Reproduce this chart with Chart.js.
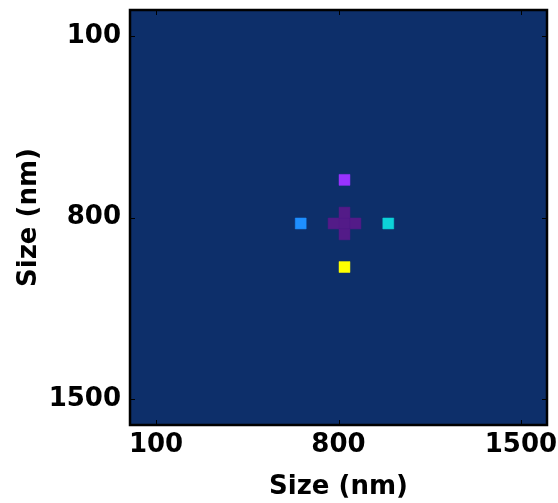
<!DOCTYPE html>
<html>
<head>
<meta charset="utf-8">
<script src="https://cdn.jsdelivr.net/npm/chart.js@4/dist/chart.umd.min.js"></script>
<style>
  html, body { margin: 0; padding: 0; background: #ffffff; }
  #wrap { width: 558px; height: 503px; position: relative; }
</style>
</head>
<body>
<div id="wrap"><canvas id="c" width="558" height="503"></canvas></div>
<script>
// Data (nm) — heatmap cells that differ from the background level
const axisMin = 0;
const axisMax = 1600;
const tickValues = [100, 800, 1500];
const cellSize = 42;
const cellX = [823, 781, 865, 823, 823, 823, 823, 655, 991];
const cellY = [823, 823, 823, 781, 865, 655, 991, 823, 823];
const cellColor = ['#531b88', '#531b88', '#531b88', '#531b88', '#531b88', '#9933fe', '#ffff00', '#1e8fff', '#0dd3d9'];
const backgroundLevelColor = '#0d2f6a';
const axisTitle = 'Size (nm)';

const FONT = { family: '"DejaVu Sans", sans-serif', size: 26, weight: 'bold' };

const points = cellX.map((x, i) => ({ x: x, y: cellY[i] }));

function cellRadius(ctx) {
  const s = ctx.chart.scales.x;
  const side = Math.abs(s.getPixelForValue(cellSize) - s.getPixelForValue(0));
  return side / Math.SQRT2;
}

function zeroPad(s) { s.paddingTop = 0; s.paddingBottom = 0; s.paddingLeft = 0; s.paddingRight = 0; }

const framePlugin = {
  id: 'frame',
  beforeDatasetsDraw(chart) {
    const { ctx, chartArea: a } = chart;
    ctx.save();
    ctx.fillStyle = backgroundLevelColor;
    ctx.fillRect(a.left, a.top, a.right - a.left, a.bottom - a.top);
    ctx.restore();
  },
  afterDatasetsDraw(chart) {
    const { ctx, chartArea: a, scales } = chart;
    ctx.save();
    ctx.strokeStyle = '#000000';
    ctx.lineWidth = 1;
    const len = 5;
    tickValues.forEach(v => {
      const px = Math.round(scales.x.getPixelForValue(v)) + 0.5;
      ctx.beginPath();
      ctx.moveTo(px, a.bottom); ctx.lineTo(px, a.bottom - len);
      ctx.moveTo(px, a.top); ctx.lineTo(px, a.top + len);
      ctx.stroke();
      const py = Math.round(scales.y.getPixelForValue(v)) + 0.5;
      ctx.beginPath();
      ctx.moveTo(a.left, py); ctx.lineTo(a.left + len, py);
      ctx.moveTo(a.right, py); ctx.lineTo(a.right - len, py);
      ctx.stroke();
    });
    ctx.lineWidth = 2.5;
    ctx.strokeRect(a.left, a.top, a.right - a.left, a.bottom - a.top);
    ctx.restore();
  }
};

new Chart(document.getElementById('c'), {
  type: 'scatter',
  data: {
    datasets: [{
      data: points,
      pointStyle: 'rect',
      pointRadius: cellRadius,
      pointHoverRadius: cellRadius,
      backgroundColor: cellColor,
      borderColor: cellColor,
      borderWidth: 0.5
    }]
  },
  options: {
    responsive: false,
    animation: false,
    events: [],
    layout: { padding: { left: 0, top: 10, right: 11, bottom: 0 } },
    plugins: { legend: { display: false }, tooltip: { enabled: false } },
    scales: {
      x: {
        type: 'linear', min: axisMin, max: axisMax,
        afterBuildTicks: s => { s.ticks = tickValues.map(v => ({ value: v })); },
        afterFit: s => { s.height = 78; zeroPad(s); },
        grid: { display: false, drawTicks: false },
        border: { display: false },
        ticks: { color: '#000', font: FONT, padding: 5, maxRotation: 0, autoSkip: false, callback: v => String(v) },
        title: { display: true, text: axisTitle, color: '#000', font: FONT, padding: { top: 0, bottom: 0 } }
      },
      y: {
        type: 'linear', min: axisMin, max: axisMax, reverse: true,
        afterBuildTicks: s => { s.ticks = tickValues.map(v => ({ value: v })); },
        afterFit: s => { s.width = 130; zeroPad(s); },
        grid: { display: false, drawTicks: false },
        border: { display: false },
        ticks: { color: '#000', font: FONT, padding: 9, autoSkip: false, callback: v => String(v) },
        title: { display: true, text: axisTitle, color: '#000', font: FONT, padding: { top: 14, bottom: 0 } }
      }
    }
  },
  plugins: [framePlugin]
});
</script>
</body>
</html>
